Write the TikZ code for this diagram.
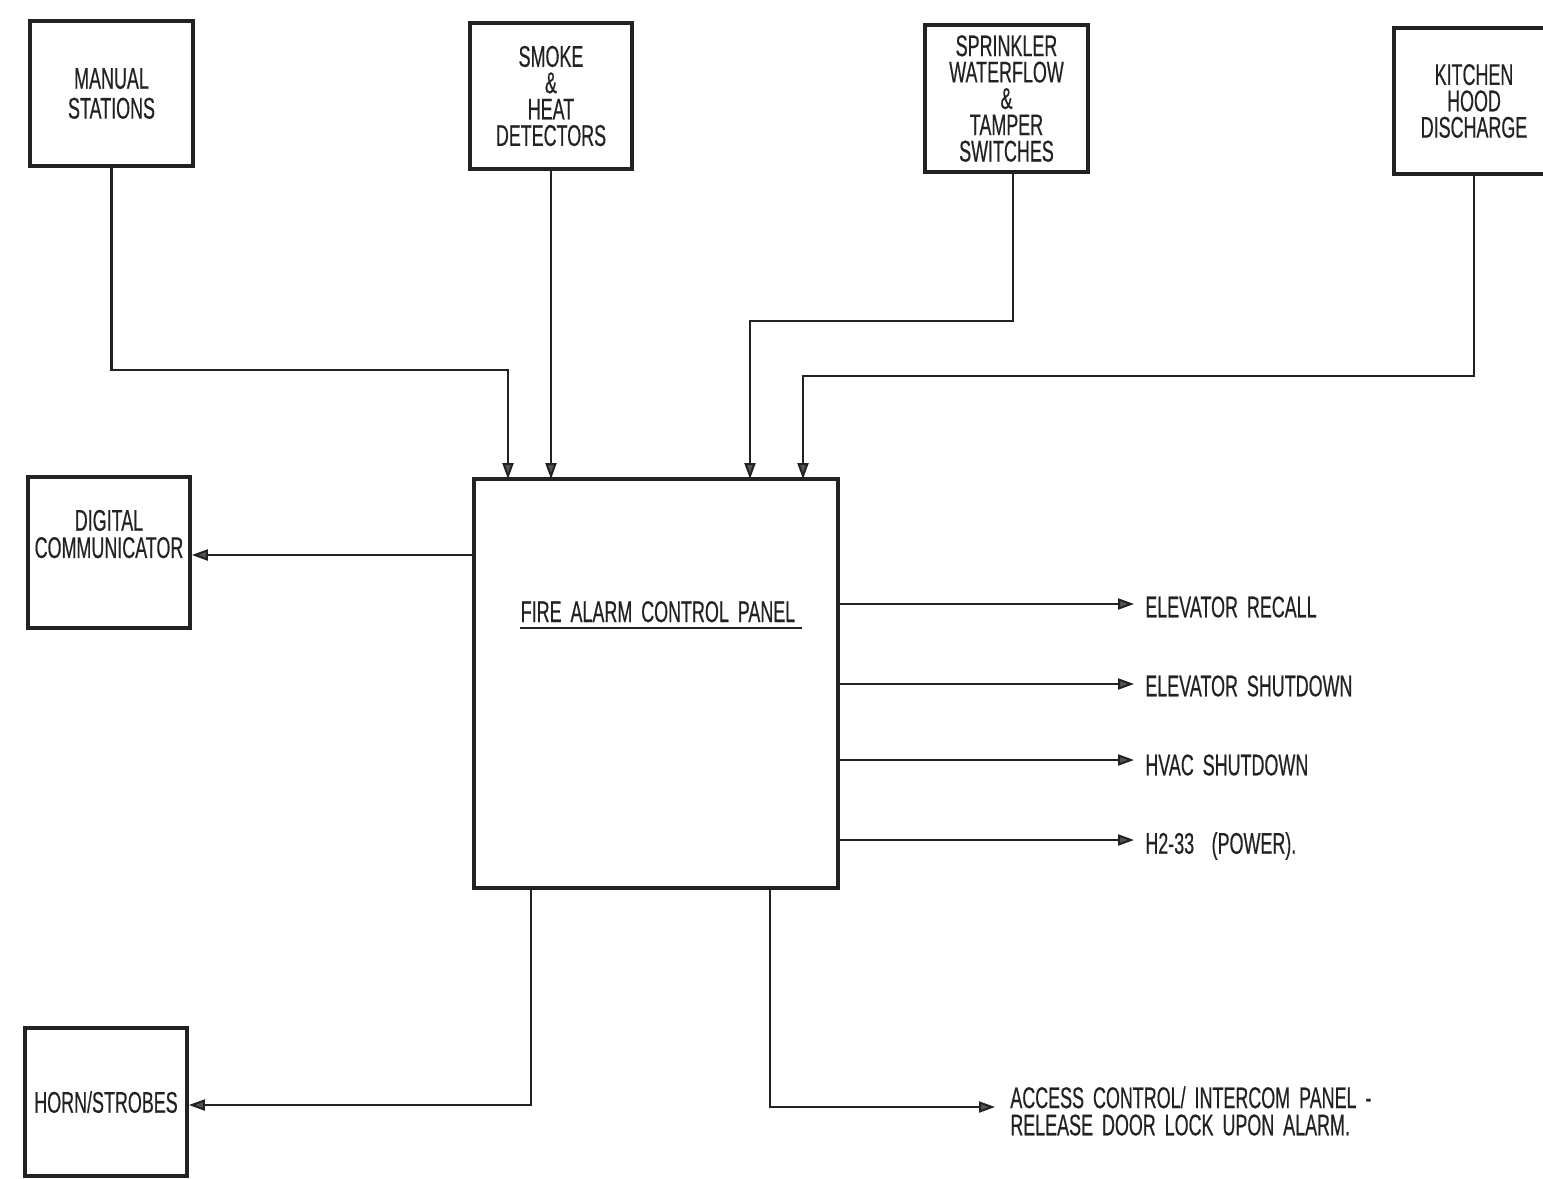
\documentclass[tikz,border=0pt]{standalone}
\usepackage{fontspec}
\setmainfont{Liberation Sans}[FakeStretch=0.6, WordSpace=1.8, FakeBold=0.4]
\usetikzlibrary{arrows.meta}
\definecolor{ink}{HTML}{222222}
\definecolor{tipfill}{HTML}{555555}
\begin{document}
\begin{tikzpicture}[x=0.02cm, y=-0.02cm,
  box/.style={draw=ink, line width=2.1pt, inner sep=0pt, align=center,
    font=\fontsize{17}{15}\selectfont, text=ink},
  lbl/.style={inner sep=0pt, font=\fontsize{17}{15}\selectfont, text=ink, align=left},
  wire/.style={draw=ink, line width=1.15pt},
  arr/.style={wire, -{Triangle[length=0.32cm, width=0.22cm, fill=tipfill]}}]
\useasboundingbox (0,0) rectangle (1543,1178);
\clip (0,0) rectangle (1543,1178);
\fill[white] (0,0) rectangle (1543,1178);

% input boxes
\node[box, minimum width=3.26cm, minimum height=2.9cm, font=\fontsize{17}{17}\selectfont] (manual) at (111.5,93.5) {MANUAL\\STATIONS};
\node[box, minimum width=3.24cm, minimum height=2.92cm] (smoke) at (551,96) {SMOKE\\\&\\HEAT\\DETECTORS};
\node[box, minimum width=3.26cm, minimum height=2.94cm] (sprink) at (1006.5,98.5) {SPRINKLER\\WATERFLOW\\\&\\TAMPER\\SWITCHES};
\node[box, minimum width=3.2cm, minimum height=2.92cm] (kitchen) at (1474,101) {KITCHEN\\HOOD\\DISCHARGE};

% panel
\node[box, minimum width=7.28cm, minimum height=8.18cm] (facp) at (656,683.5) {};
\node[lbl, anchor=base] (facplab) at (658,622) {FIRE ALARM CONTROL PANEL};
\draw[ink, line width=1pt] ([yshift=-0.12cm]facplab.base west) -- ([yshift=-0.12cm, xshift=0.12cm]facplab.base east);

% output boxes
\node[box, minimum width=3.24cm, minimum height=3.02cm, font=\fontsize{17}{15.5}\selectfont] (digital) at (109,552.5) {DIGITAL\\COMMUNICATOR\\[0.2cm]};
\node[box, minimum width=3.24cm, minimum height=2.96cm] (horn) at (106,1102) {HORN/STROBES};

% arrival points on panel top
\coordinate (in1) at (508,479);
\coordinate (in2) at (551,479);
\coordinate (in3) at (750,479);
\coordinate (in4) at (803,479);
\coordinate (spout) at ([xshift=0.13cm]sprink.south);

\draw[arr] (manual.south) -- (manual.south |- 0,370) -| (in1);
\draw[arr] (smoke.south) -- (in2);
\draw[arr] (spout) -- (spout |- 0,321) -| (in3);
\draw[arr] (kitchen.south) -- (kitchen.south |- 0,376) -| (in4);

\draw[arr] (facp.west |- 0,555) -- (digital.east |- 0,555);

% right outputs
\node[lbl, anchor=west] (er) at (1145,607) {ELEVATOR RECALL};
\node[lbl, anchor=west] (es) at (1145,686) {ELEVATOR SHUTDOWN};
\node[lbl, anchor=west] (hv) at (1145,765) {HVAC SHUTDOWN};
\node[lbl, anchor=west] (h2) at (1145,846) {H2-33\hspace{0.35cm}(POWER).};

\draw[arr, shorten >=0.22cm] (facp.east |- 0,604) -- (er.west |- 0,604);
\draw[arr, shorten >=0.22cm] (facp.east |- 0,684) -- (es.west |- 0,684);
\draw[arr, shorten >=0.22cm] (facp.east |- 0,760) -- (hv.west |- 0,760);
\draw[arr, shorten >=0.22cm] (facp.east |- 0,840) -- (h2.west |- 0,840);

% bottom outputs
\node[lbl, anchor=west, font=\fontsize{17}{15.5}\selectfont] (acc) at (1010,1111) {ACCESS CONTROL/ INTERCOM PANEL -\\RELEASE DOOR LOCK UPON ALARM.};
\coordinate (hornbend) at (531,1105);
\coordinate (accbend) at (770,1107);
\draw[arr] (facp.south -| hornbend) -- (hornbend) -- (horn.east |- hornbend);
\draw[arr, shorten >=0.3cm] (facp.south -| accbend) -- (accbend) -- (acc.west |- accbend);
\end{tikzpicture}
\end{document}
